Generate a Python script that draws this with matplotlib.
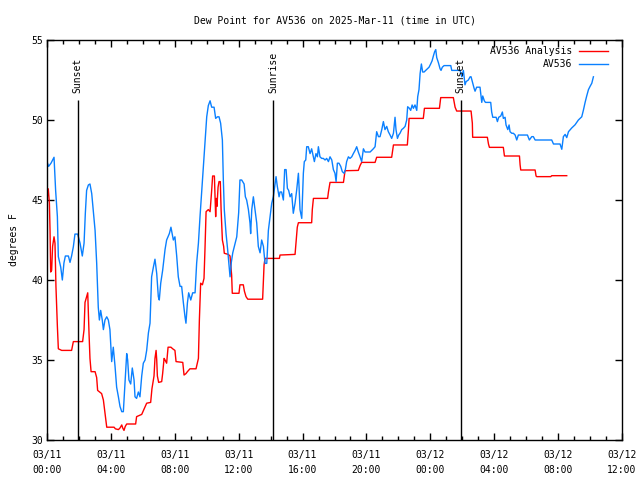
import matplotlib
matplotlib.use("Agg")
import matplotlib.pyplot as plt
import numpy as np

# hours since 2025-03-11 00:00 UTC
obs_hours = [0.00, 0.10, 0.25, 0.44, 0.54, 0.65, 0.71, 0.86, 0.96, 1.06, 1.15, 1.34, 1.44, 1.54, 1.65, 1.75, 1.92,
             2.07, 2.21, 2.32, 2.40, 2.48, 2.59, 2.69, 2.80, 2.90, 3.01, 3.11, 3.21, 3.28, 3.36, 3.46, 3.53, 3.63,
             3.74, 3.84, 3.94, 4.01, 4.05, 4.15, 4.26, 4.36, 4.47, 4.57, 4.68, 4.78, 4.88, 4.99, 5.05, 5.13, 5.24,
             5.34, 5.45, 5.51, 5.61, 5.72, 5.82, 5.93, 6.03, 6.14, 6.24, 6.35, 6.45, 6.55, 6.66, 6.76, 6.87, 6.97,
             7.03, 7.12, 7.24, 7.39, 7.49, 7.66, 7.76, 7.91, 8.01, 8.12, 8.22, 8.33, 8.43, 8.54, 8.64, 8.70, 8.79,
             8.87, 9.00, 9.12, 9.27, 9.37, 9.48, 9.58, 9.69, 9.79, 9.89, 10.00, 10.10, 10.21, 10.31, 10.46, 10.56,
             10.67, 10.77, 10.87, 10.98, 11.04, 11.10, 11.21, 11.31, 11.38, 11.46, 11.54, 11.63, 11.73, 11.88,
             12.00, 12.08, 12.19, 12.34, 12.42, 12.50, 12.61, 12.71, 12.75, 12.82, 12.92, 13.02, 13.13, 13.23,
             13.34, 13.44, 13.55, 13.65, 13.76, 13.86, 13.96, 14.07, 14.17, 14.28, 14.34, 14.42, 14.53, 14.59,
             14.69, 14.80, 14.88, 14.97, 15.05, 15.13, 15.22, 15.32, 15.42, 15.53, 15.63, 15.74, 15.78, 15.84,
             15.95, 16.05, 16.11, 16.20, 16.26, 16.36, 16.47, 16.57, 16.68, 16.74, 16.84, 16.93, 16.99, 17.09,
             17.20, 17.30, 17.41, 17.51, 17.62, 17.72, 17.83, 17.93, 18.03, 18.10, 18.18, 18.28, 18.39, 18.49,
             18.60, 18.68, 18.76, 18.87, 18.97, 19.08, 19.18, 19.29, 19.39, 19.49, 19.60, 19.70, 19.81, 19.91,
             20.02, 20.23, 20.43, 20.54, 20.64, 20.75, 20.85, 20.96, 21.06, 21.16, 21.27, 21.37, 21.48, 21.58,
             21.69, 21.79, 21.85, 21.94, 22.02, 22.10, 22.21, 22.31, 22.42, 22.52, 22.58, 22.69, 22.77, 22.86,
             22.94, 23.04, 23.15, 23.21, 23.29, 23.36, 23.44, 23.52, 23.61, 23.71, 23.82, 23.92, 24.02, 24.11,
             24.19, 24.27, 24.34, 24.40, 24.50, 24.61, 24.67, 24.75, 24.86, 25.03, 25.28, 25.34, 25.55, 25.76,
             25.86, 25.97, 26.07, 26.17, 26.24, 26.38, 26.49, 26.55, 26.74, 26.80, 26.90, 27.11, 27.22, 27.28,
             27.38, 27.45, 27.78, 27.84, 27.91, 28.12, 28.20, 28.28, 28.41, 28.51, 28.57, 28.68, 28.74, 28.85,
             28.93, 28.99, 29.10, 29.20, 29.31, 29.41, 29.51, 30.08, 30.20, 30.35, 30.45, 30.56, 31.60, 31.71,
             32.12, 32.23, 32.33, 32.44, 32.54, 32.65, 32.85, 33.06, 33.27, 33.48, 33.58, 33.69, 33.79, 33.90,
             34.00, 34.11, 34.21]
obs_dewpt = [47.4, 47.1, 47.3, 47.67, 45.6, 43.96, 41.46, 40.8, 40.0, 41.06, 41.5, 41.5, 41.1, 41.5, 42.08, 42.87, 42.87,
             42.3, 41.5, 42.3, 44.17, 45.6, 45.94, 46.0, 45.4, 44.3, 43.1, 41.06, 38.3, 37.5, 38.1, 37.5, 36.9, 37.5,
             37.7, 37.5, 36.9, 35.6, 34.9, 35.8, 34.6, 33.3, 32.7, 32.1, 31.77, 31.77, 33.5, 35.4, 35.0, 33.75, 33.5,
             34.5, 33.75, 32.7, 32.6, 33.0, 32.7, 34.0, 34.8, 35.0, 35.6, 36.7, 37.3, 40.2, 40.8, 41.3, 40.4, 38.96,
             38.75, 39.8, 40.6, 41.9, 42.5, 42.9, 43.3, 42.5, 42.7, 41.5, 40.2, 39.6, 39.6, 38.56, 37.7, 37.3, 38.56,
             39.2, 38.75, 39.2, 39.2, 41.06, 42.3, 43.96, 45.6, 47.1, 48.5, 50.2, 50.9, 51.2, 50.8, 50.8, 50.1,
             50.2, 50.2, 49.8, 48.75, 46.25, 44.4, 42.9, 41.9, 41.1, 40.2, 41.1, 41.7, 42.1, 42.7,
             44.2, 46.25, 46.25, 46.0, 45.2, 45.0, 44.4, 43.56, 42.9, 44.4, 45.2, 44.4, 43.56, 42.1,
             41.7, 42.5, 42.1, 41.04, 41.04, 43.1, 43.9, 44.8, 45.2, 46.0, 46.46, 45.85, 45.2, 45.5,
             45.5, 45.0, 46.9, 46.9, 45.73, 45.6, 45.2, 45.4, 44.17, 44.8, 45.6, 46.67, 45.85, 44.4,
             43.85, 46.67, 47.4, 47.5, 48.33, 48.33, 47.9, 48.2, 47.7, 47.4, 47.9, 47.7, 48.33, 47.7,
             47.6, 47.6, 47.5, 47.6, 47.4, 47.7, 47.5, 46.9, 46.67, 46.15, 47.3, 47.3, 47.1, 46.77,
             46.67, 46.9, 47.4, 47.7, 47.6, 47.7, 47.9, 48.1, 48.33, 48.0, 47.7, 47.4, 48.2, 48.0,
             48.0, 48.0, 48.2, 48.33, 49.27, 48.96, 48.96, 49.4, 49.9, 49.4, 49.6, 49.27, 49.06, 48.85,
             49.17, 50.17, 49.4, 48.85, 49.06, 49.17, 49.4, 49.48, 49.6, 50.0, 50.83, 50.73, 50.6, 50.94,
             50.73, 50.94, 50.6, 51.46, 51.9, 52.9, 53.5, 53.0, 53.0, 53.1, 53.2, 53.3, 53.5, 53.7,
             54.0, 54.27, 54.4, 53.9, 53.6, 53.2, 53.1, 53.3, 53.4, 53.4, 53.4, 53.1, 53.1, 53.1,
             53.1, 52.7, 53.1, 52.2, 52.4, 52.5, 52.7, 52.7, 51.98, 51.8, 52.05, 52.05, 51.1, 51.5,
             51.2, 51.1, 51.1, 50.5, 50.17, 50.17, 49.9, 50.17, 50.25, 50.5, 50.1, 50.17, 49.69, 49.4,
             49.69, 49.27, 49.17, 49.17, 49.06, 48.75, 49.06, 49.06, 48.75, 48.96, 48.96, 48.75, 48.75, 48.5,
             48.5, 48.17, 48.96, 49.1, 48.9, 49.27, 49.5, 49.7, 50.0, 50.2, 50.6, 51.1, 51.5, 51.9,
             52.1, 52.3, 52.7]

ana_hours = [0.00, 0.02, 0.08, 0.15, 0.19, 0.23, 0.29, 0.35, 0.44, 0.50, 0.56, 0.65, 0.71, 0.92, 1.54, 1.65, 2.23,
             2.32, 2.38, 2.48, 2.55, 2.63, 2.69, 2.76, 3.01, 3.11, 3.17, 3.42, 3.53, 3.63, 3.69, 3.74, 4.20, 4.28,
             4.47, 4.57, 4.68, 4.74, 4.82, 4.90, 4.99, 5.55, 5.61, 5.93, 6.24, 6.49, 6.57, 6.70, 6.76, 6.83, 6.87,
             6.91, 6.99, 7.18, 7.24, 7.33, 7.39, 7.49, 7.58, 7.76, 7.87, 8.01, 8.08, 8.50, 8.58, 8.70, 8.79, 8.95,
             9.33, 9.48, 9.54, 9.62, 9.73, 9.83, 9.89, 9.96, 10.10, 10.21, 10.31, 10.37, 10.48, 10.56, 10.60,
             10.64, 10.71, 10.77, 10.85, 10.90, 10.98, 11.06, 11.10, 11.35, 11.46, 11.56, 11.60, 12.02, 12.08,
             12.29, 12.36, 12.46, 12.57, 13.50, 13.55, 13.59, 13.65, 14.55, 14.59, 15.53, 15.59, 15.67, 15.74,
             16.57, 16.61, 16.68, 17.57, 17.62, 17.72, 18.56, 18.66, 19.49, 19.60, 19.70, 20.54, 20.64, 21.58,
             21.64, 21.69, 22.56, 22.63, 22.67, 23.56, 23.63, 24.57, 24.65, 25.44, 25.55, 25.65, 26.55, 26.63,
             26.65, 27.57, 27.64, 27.70, 28.57, 28.64, 29.58, 29.62, 29.66, 30.56, 30.62, 30.66, 31.54, 31.60,
             32.54]
ana_dewpt = [44.58, 45.2, 45.7, 44.8, 43.1, 40.5, 40.6, 42.1, 42.7, 42.3, 39.6, 37.1, 35.7, 35.6, 35.6, 36.15, 36.15,
             36.9, 38.6, 38.96, 39.2, 36.7, 35.1, 34.27, 34.27, 33.9, 33.1, 32.9, 32.5, 31.67, 31.15, 30.8, 30.8, 30.7,
             30.65, 30.75, 30.94, 30.75, 30.6, 30.85, 31.0, 31.0, 31.46, 31.6, 32.3, 32.35, 33.2, 34.0, 35.1, 35.6, 35.0,
             34.0, 33.6, 33.65, 34.15, 35.1, 35.0, 34.8, 35.8, 35.8, 35.7, 35.6, 34.9, 34.85, 34.06, 34.15, 34.27, 34.45,
             34.45, 35.1, 37.5, 39.8, 39.7, 40.1, 41.9, 44.27, 44.4, 44.27, 45.6, 46.5, 46.5, 43.96, 45.1,
             44.6, 45.8, 46.15, 46.15, 44.4, 42.5, 42.1, 41.67, 41.6, 41.5, 40.3, 39.17, 39.17, 39.7,
             39.7, 39.3, 38.96, 38.8, 38.8, 40.0, 40.94, 41.35, 41.35, 41.56, 41.6, 42.3, 43.3, 43.58,
             43.58, 44.4, 45.1, 45.1, 45.5, 46.1, 46.1, 46.83, 46.85, 47.15, 47.35, 47.35, 47.67, 47.67,
             48.1, 48.44, 48.44, 49.4, 50.1, 50.1, 50.73, 50.73, 51.4, 51.4, 50.8, 50.56, 50.56, 49.8,
             48.92, 48.92, 48.5, 48.29, 48.29, 47.75, 47.75, 47.2, 46.875, 46.875, 46.5, 46.46, 46.46, 46.52,
             46.52]

sun_hours = [1.92, 14.17, 25.90]
sun_labels = ["Sunset", "Sunrise", "Sunset"]

xtick_hours = [0, 4, 8, 12, 16, 20, 24, 28, 32, 36]
xtick_labels = ["03/11\n00:00", "03/11\n04:00", "03/11\n08:00", "03/11\n12:00", "03/11\n16:00",
                "03/11\n20:00", "03/12\n00:00", "03/12\n04:00", "03/12\n08:00", "03/12\n12:00"]

plt.rcParams['font.family'] = ['DejaVu Sans Mono']
plt.rcParams['font.size'] = 7

fig = plt.figure(figsize=(6.4, 4.8), dpi=100)
ax = fig.add_axes([47 / 640, 40 / 480, 575 / 640, 400 / 480])

ax.plot(ana_hours, ana_dewpt, color='#ff0000', lw=1.0, label='AV536 Analysis')
ax.plot(obs_hours, obs_dewpt, color='#0a80ff', lw=1.0, label='AV536')

for h, lab in zip(sun_hours, sun_labels):
    ax.vlines(h, 30, 51.25, color='black', lw=1.0)
    ax.text(h, 51.7, lab, rotation=90, ha='center', va='bottom', fontsize=7)

ax.set_xlim(0, 36)
ax.set_ylim(30, 55)
ax.set_xticks(xtick_hours)
ax.set_xticklabels(xtick_labels, linespacing=1.6)
ax.set_xticks(np.arange(0, 37, 1), minor=True)
ax.set_yticks([30, 35, 40, 45, 50, 55])
ax.tick_params(which='both', direction='in', top=True, right=True, width=1.0)
ax.tick_params(which='major', length=5, pad=7)
ax.tick_params(which='minor', length=3)
ax.tick_params(axis='y', which='major', pad=3)
for s in ax.spines.values():
    s.set_linewidth(1.0)

ax.set_title('Dew Point for AV536 on 2025-Mar-11 (time in UTC)', fontsize=7, pad=12)
ax.set_ylabel('degrees F', fontsize=7, labelpad=9)

ax.legend(loc='upper right', bbox_to_anchor=(1 - 8 / 575, 1.0), frameon=False, markerfirst=False,
          handlelength=2.9, borderaxespad=0.25, labelspacing=0.32, handletextpad=0.7, fontsize=7)

fig.savefig('out.png', dpi=100)
